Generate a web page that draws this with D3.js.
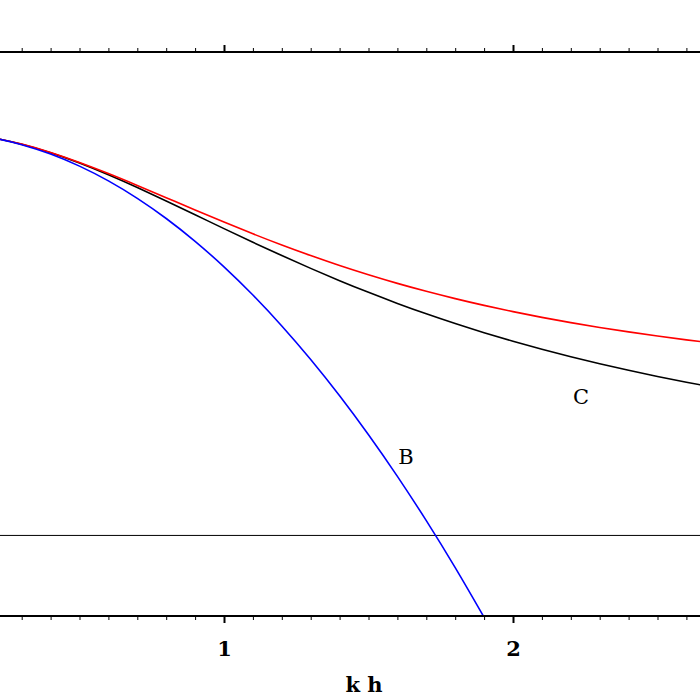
<!DOCTYPE html>
<html><head><meta charset="utf-8">
<script src="https://cdn.jsdelivr.net/npm/d3@7"></script>
<style>body{margin:0;background:#fff}</style></head>
<body><svg id="c" width="700" height="700"></svg>
<script>
const khC = [0,0.1,0.2,0.3,0.4,0.5,0.6,0.7,0.8,0.9,1.0,1.1,1.2,1.3,1.4,1.5,1.6,1.7,1.8,1.9,2.0,2.1,2.2,2.3,2.4,2.5,2.6,2.7];
const exactC = [1,.9967,.9869,.9710,.9499,.9242,.8951,.8634,.8300,.7959,.7616,.7277,.6947,.6629,.6324,.6034,.5760,.5502,.5260,.5033,.4820,.4621,.4435,.4261,.4099,.3946,.3804,.3670];
const padeRed = [1,.9967,.9869,.9713,.9506,.9259,.8983,.8688,.8384,.8078,.7778,.7487,.7209,.6947,.6700,.6471,.6257,.6060,.5878,.5710,.5556,.5413,.5283,.5162,.5052,.4949,.4855,.4769];
const khB = [0,0.1,0.2,0.3,0.4,0.5,0.6,0.7,0.8,0.9,1.0,1.1,1.2,1.3,1.4,1.5,1.6,1.7,1.8,1.9];
const seriesB = [1,.9967,.9867,.97,.9467,.9167,.88,.8367,.7867,.73,.6667,.5967,.52,.4367,.3467,.25,.1467,.0367,-.08,-.2033];
const xTicks = [1,2];
const labels = [{t:"B",x:1.63,y:0.19},{t:"C",x:2.235,y:0.34}];

const svg = d3.select("#c");
const x = d3.scaleLinear().domain([0,1]).range([-65,224]);
const y = d3.scaleLinear().domain([-0.2,1.2]).range([616,52]);
const plot = svg.append("g");
plot.append("clipPath").attr("id","cl").append("rect").attr("x",0).attr("y",52).attr("width",700).attr("height",564);
const g = plot.append("g").attr("clip-path","url(#cl)");
const line = d3.line().curve(d3.curveNatural);
g.append("line").attr("x1",0).attr("x2",700).attr("y1",y(0)).attr("y2",y(0)).attr("stroke","#000").attr("stroke-width",1);
g.append("path").attr("d",line(khC.map((k,i)=>[x(k),y(exactC[i])]))).attr("fill","none").attr("stroke","#000").attr("stroke-width",1.6);
g.append("path").attr("d",line(khC.map((k,i)=>[x(k),y(padeRed[i])]))).attr("fill","none").attr("stroke","#f00").attr("stroke-width",1.6);
g.append("path").attr("d",line(khB.map((k,i)=>[x(k),y(seriesB[i])]))).attr("fill","none").attr("stroke","#00f").attr("stroke-width",1.6);
labels.forEach(l=>svg.append("text").attr("x",x(l.x)).attr("y",y(l.y)).attr("text-anchor","middle").attr("dominant-baseline","middle")
  .attr("font-family","DejaVu Serif").attr("font-size",21).text(l.t));

const minor = d3.range(0,2.75,0.1);
const bot = d3.axisBottom(x).tickValues(xTicks).tickSize(7).tickFormat(d3.format("d"));
const ga = svg.append("g").attr("transform",`translate(0,${y(-0.2)})`).call(bot);
ga.select(".domain").remove();
ga.selectAll("line").attr("stroke-width",2);
ga.selectAll("text").attr("font-family","DejaVu Serif").attr("font-weight","bold").attr("font-size",21).attr("dy","1.45em");
const gm = svg.append("g").attr("transform",`translate(0,${y(-0.2)})`).call(d3.axisBottom(x).tickValues(minor).tickSize(4).tickFormat(""));
gm.select(".domain").remove();
const gt = svg.append("g").attr("transform",`translate(0,${y(1.2)})`).call(d3.axisTop(x).tickValues(xTicks).tickSize(7).tickFormat(""));
gt.select(".domain").remove(); gt.selectAll("line").attr("stroke-width",2);
const gtm = svg.append("g").attr("transform",`translate(0,${y(1.2)})`).call(d3.axisTop(x).tickValues(minor).tickSize(4).tickFormat(""));
gtm.select(".domain").remove();
[y(1.2),y(-0.2)].forEach(v=>svg.append("line").attr("x1",0).attr("x2",700).attr("y1",v).attr("y2",v).attr("stroke","#000").attr("stroke-width",2.2));
svg.append("text").attr("x",364).attr("y",692).attr("text-anchor","middle").attr("font-family","DejaVu Serif").attr("font-weight","bold").attr("font-size",21).text("k h");
</script></body></html>
